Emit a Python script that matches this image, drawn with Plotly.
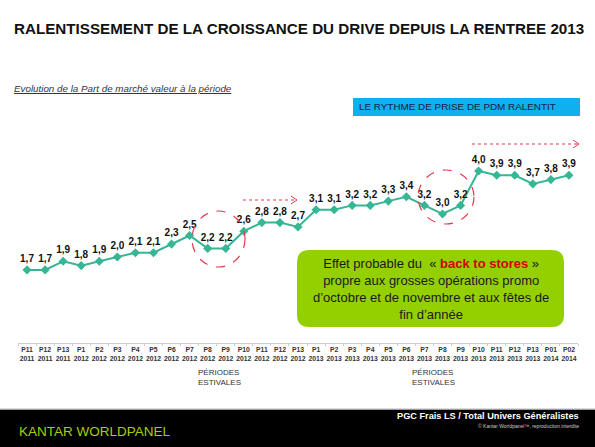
import plotly.graph_objects as go

periods = ["P11", "P12", "P13", "P1", "P2", "P3", "P4", "P5", "P6", "P7", "P8", "P9", "P10", "P11", "P12", "P13",
           "P1", "P2", "P3", "P4", "P5", "P6", "P7", "P8", "P9", "P10", "P11", "P12", "P13", "P01", "P02"]
years = ["2011"] * 3 + ["2012"] * 13 + ["2013"] * 13 + ["2014"] * 2
part_marche = [1.7, 1.7, 1.9, 1.8, 1.9, 2.0, 2.1, 2.1, 2.3, 2.5, 2.2, 2.2, 2.6, 2.8, 2.8, 2.7,
               3.1, 3.1, 3.2, 3.2, 3.3, 3.4, 3.2, 3.0, 3.2, 4.0, 3.9, 3.9, 3.7, 3.8, 3.9]

W, H = 595, 447
L, R, T, B = 18, 17, 110, 104
PW, PH = W - L - R, H - T - B


def px(x):
    return (x - L) / PW


def py(y):
    return (H - B - y) / PH


cats = [f"<b>{p}</b><br><b>{y}</b>" for p, y in zip(periods, years)]
labels = [f"{v:.1f}".replace(".", ",") for v in part_marche]

fig = go.Figure()
fig.add_trace(go.Scatter(
    x=cats, y=part_marche, mode="lines+markers+text",
    line=dict(color="#36b694", width=2),
    marker=dict(symbol="diamond", size=7, color="#36b694"),
    text=[f"<b>{t}</b>" for t in labels], textposition="top center",
    textfont=dict(family="Liberation Sans, Arial, sans-serif", size=10, color="#111111"),
    cliponaxis=False, hoverinfo="skip",
))

RED = "#e8394f"
shapes = []
# footer band
shapes.append(dict(type="rect", xref="paper", yref="paper", x0=px(0), x1=px(W), y0=py(H), y1=py(409.5),
                   fillcolor="#000000", line=dict(width=0), layer="below"))
shapes.append(dict(type="line", xref="paper", yref="paper", x0=px(0), x1=px(W), y0=py(409), y1=py(409),
                   line=dict(color="#bbbbbb", width=1)))
# blue box
shapes.append(dict(type="rect", xref="paper", yref="paper", x0=px(353), x1=px(580), y0=py(116), y1=py(98),
                   fillcolor="#0fb0ee", line=dict(width=0)))
# dashed circles
for cx, cy, rx, ry in [(218.5, 239, 26.5, 28), (446, 197, 28, 27)]:
    shapes.append(dict(type="circle", xref="paper", yref="paper", x0=px(cx - rx), x1=px(cx + rx),
                       y0=py(cy + ry), y1=py(cy - ry), line=dict(color=RED, width=1.2, dash="dash")))
# dotted arrows
for x0, x1, yy in [(243, 297, 200), (472, 579, 144)]:
    shapes.append(dict(type="line", xref="paper", yref="paper", x0=px(x0), x1=px(x1), y0=py(yy), y1=py(yy),
                       line=dict(color=RED, width=1.2, dash="dot")))
    shapes.append(dict(type="path", xref="paper", yref="paper",
                       path=f"M{px(x1-6)},{py(yy-4)} L{px(x1)},{py(yy)} L{px(x1-6)},{py(yy+4)}",
                       line=dict(color=RED, width=1)))
# green rounded box
gx0, gx1, gy0, gy1, rr = 297, 564, 250, 327, 12
path = (f"M{px(gx0+rr)},{py(gy0)} L{px(gx1-rr)},{py(gy0)} Q{px(gx1)},{py(gy0)} {px(gx1)},{py(gy0+rr)} "
        f"L{px(gx1)},{py(gy1-rr)} Q{px(gx1)},{py(gy1)} {px(gx1-rr)},{py(gy1)} "
        f"L{px(gx0+rr)},{py(gy1)} Q{px(gx0)},{py(gy1)} {px(gx0)},{py(gy1-rr)} "
        f"L{px(gx0)},{py(gy0+rr)} Q{px(gx0)},{py(gy0)} {px(gx0+rr)},{py(gy0)} Z")
shapes.append(dict(type="path", xref="paper", yref="paper", path=path, fillcolor="#94cf00",
                   line=dict(width=0)))

F = "Liberation Sans, Arial, sans-serif"
ann = []


def text(x, y, s, size, color="#111111", xanchor="left", align="left", family=F):
    ann.append(dict(x=px(x), y=py(y), xref="paper", yref="paper", text=s, showarrow=False,
                    xanchor=xanchor, yanchor="middle", align=align,
                    font=dict(family=family, size=size, color=color)))


text(12, 28, "<b>RALENTISSEMENT DE LA CROISSANCE DU DRIVE DEPUIS LA RENTREE 2013</b>", 15.2, "#111111")
text(12, 88, "<i><u>Evolution de la Part de marché valeur à la période</u></i>", 9.8, "#333333")
text(357, 107, "LE RYTHME DE PRISE DE PDM RALENTIT", 9.9, "#1a1a40")
text(430.5, 289,
     "Effet probable du  « <b><span style='color:#d40000'>back to stores</span></b> »<br>"
     "propre aux grosses opérations promo<br>d’octobre et de novembre et aux fêtes de<br>fin d’année",
     13, "#1a1a1a", xanchor="center", align="center")
text(196, 377, "PÉRIODES<br>ESTIVALES", 8, "#333333")
text(410, 377, "PÉRIODES<br>ESTIVALES", 8, "#333333")
text(17, 431, "KANTAR WORLDPANEL", 13.5, "#a6cf0c")
text(581, 416, "<b>PGC Frais LS / Total Univers Généralistes</b>", 9.2, "#ffffff", xanchor="right",
     family="Liberation Sans Narrow, Arial Narrow, Liberation Sans, sans-serif")
text(581, 426, "© Kantar Worldpanel™, reproduction interdite", 5, "#cccccc", xanchor="right")

fig.update_layout(
    width=W, height=H, autosize=False,
    margin=dict(l=L, r=R, t=T, b=B),
    paper_bgcolor="white", plot_bgcolor="white",
    showlegend=False,
    shapes=shapes, annotations=ann,
    xaxis=dict(type="category", showgrid=False, zeroline=False, showline=True, linecolor="#cccccc",
               linewidth=1, ticks="outside", ticklen=2, tickcolor="#cccccc", tickson="boundaries",
               tickfont=dict(family=F, size=6.8, color="#333333"), tickangle=0,
               range=[-0.5, len(cats) - 0.5], fixedrange=True),
    yaxis=dict(range=[0, PH / 43.0], showgrid=False, zeroline=False, showline=False,
               showticklabels=False, ticks="", fixedrange=True),
)
fig.write_html("out.html", config={"displayModeBar": False},
               post_script="document.body.style.margin='0';document.body.style.overflow='hidden';")
